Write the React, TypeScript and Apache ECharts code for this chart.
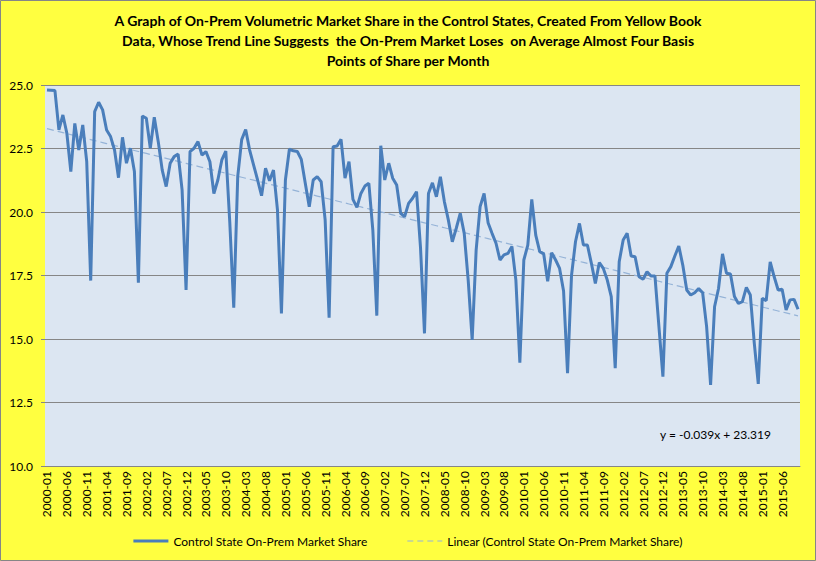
import React, { useEffect, useRef } from "react";
import * as echarts from "echarts";

// Monthly categories 2000-01 .. 2015-10
const startYear = 2000;
const monthCount = 190;
const months: string[] = [];
for (let i = 0; i < monthCount; i++) {
  const y = startYear + Math.floor(i / 12);
  const m = (i % 12) + 1;
  months.push(`${y}-${m < 10 ? "0" + m : m}`);
}

const shareValues: number[] = [
  24.8, 24.79, 24.78, 23.23, 23.82, 23.1, 21.59, 23.49, 22.44, 23.43, 21.98, 17.3,
  23.95, 24.32, 24.02, 23.23, 22.97, 22.44, 21.35, 22.94, 21.92, 22.51, 21.59, 17.22,
  23.78, 23.69, 22.51, 23.73, 22.77, 21.65, 21.0, 21.92, 22.18, 22.28, 20.87, 16.93,
  22.38, 22.51, 22.77, 22.24, 22.38, 21.98, 20.73, 21.26, 22.05, 22.4, 19.6, 16.23,
  21.39, 22.85, 23.25, 22.44, 21.85, 21.26, 20.64, 21.72, 21.23, 21.65, 20.08, 16.01,
  21.26, 22.47, 22.41, 22.38, 22.07, 21.13, 20.21, 21.26, 21.39, 21.19, 19.69, 15.84,
  22.57, 22.6, 22.86, 21.33, 21.98, 20.5, 20.18, 20.73, 21.02, 21.13, 19.29, 15.92,
  22.61, 21.26, 21.92, 21.33, 21.06, 19.95, 19.82, 20.34, 20.54, 20.8, 18.6, 15.22,
  20.73, 21.15, 20.6, 21.39, 20.41, 19.69, 18.83, 19.36, 19.95, 19.16, 17.32, 14.96,
  18.5, 20.21, 20.73, 19.58, 19.16, 18.77, 18.11, 18.31, 18.37, 18.64, 17.32, 14.07,
  18.11, 18.7, 20.5, 19.09, 18.44, 18.35, 17.27, 18.4, 18.11, 17.78, 16.89, 13.65,
  17.5, 18.83, 19.55, 18.7, 18.7, 17.98, 17.19, 18.01, 17.78, 17.32, 16.67, 13.85,
  18.04, 18.9, 19.16, 18.27, 18.24, 17.45, 17.35, 17.65, 17.48, 17.48, 15.49, 13.52,
  17.59, 17.85, 18.27, 18.66, 17.91, 16.93, 16.73, 16.82, 16.99, 16.82, 15.49, 13.19,
  16.27, 16.99, 18.35, 17.59, 17.56, 16.67, 16.4, 16.47, 17.03, 16.73, 14.83, 13.23,
  16.6, 16.51, 18.04, 17.45, 16.93, 16.96, 16.14, 16.54, 16.56, 16.17,
];

// Trend line coefficients as displayed on the chart
const trendSlope = -0.039;
const trendIntercept = 23.319;
const trendValues: number[] = shareValues.map((_, i) =>
  Number((trendSlope * (i + 1) + trendIntercept).toFixed(3))
);

const seriesName = "Control State On-Prem Market Share";
const trendName = "Linear (Control State On-Prem Market Share)";
const titleText =
  "A Graph of On-Prem Volumetric Market Share in the Control States, Created From Yellow Book\nData, Whose Trend Line Suggests  the On-Prem Market Loses  on Average Almost Four Basis\nPoints of Share per Month";
const equationText = "y = -0.039x + 23.319";

const FONT = "Lato, 'Open Sans', sans-serif";

export default function App() {
  const ref = useRef<HTMLDivElement>(null);
  useEffect(() => {
    if (!ref.current) return;
    const chart = echarts.init(ref.current, null, { renderer: "svg" });
    chart.setOption({
      animation: false,
      backgroundColor: "#FFFF40",
      textStyle: { fontFamily: FONT },
      grid: { left: 45, top: 85, width: 755, height: 381, show: true, backgroundColor: "#DCE6F2", borderWidth: 0 },
      legend: {
        left: "center",
        top: 530,
        itemWidth: 35,
        itemHeight: 14,
        itemGap: 40,
        textStyle: { fontFamily: FONT, fontSize: 12, color: "#000" },
        data: [
          { name: seriesName, icon: "path://M0,0L35,0L35,3L0,3Z" },
          {
            name: trendName,
            icon: "path://M0,0h6v1.2h-6zM10,0h6v1.2h-6zM20,0h6v1.2h-6zM30,0h5v1.2h-5z",
          },
        ],
      },
      xAxis: {
        type: "category",
        data: months,
        boundaryGap: true,
        axisLine: { show: true, lineStyle: { color: "#868686", width: 1 } },
        axisTick: { show: false },
        axisLabel: {
          interval: 4,
          rotate: 90,
          fontFamily: FONT,
          fontSize: 12,
          color: "#000",
          margin: 5,
        },
        splitLine: { show: false },
      },
      yAxis: {
        type: "value",
        min: 10,
        max: 25,
        interval: 2.5,
        axisLine: { show: false },
        axisTick: { show: true, length: 4, lineStyle: { color: "#868686" } },
        axisLabel: {
          fontFamily: FONT,
          fontSize: 12,
          color: "#000",
          margin: 12,
          formatter: (v: number) => v.toFixed(1),
        },
        splitLine: { show: true, lineStyle: { color: "#868686", width: 1 } },
      },
      series: [
        {
          name: seriesName,
          type: "line",
          data: shareValues,
          symbol: "none",
          lineStyle: { color: "#4A7EBB", width: 3 },
          itemStyle: { color: "#4A7EBB" },
          z: 3,
        },
        {
          name: trendName,
          type: "line",
          data: trendValues,
          symbol: "none",
          lineStyle: { color: "#95B3D7", width: 1.2, type: [7, 4] },
          itemStyle: { color: "#95B3D7" },
          z: 2,
        },
      ],
      graphic: [
        {
          type: "text",
          x: 408,
          y: 10,
          style: {
            text: titleText,
            fontFamily: FONT,
            fontWeight: "bold",
            fontSize: 14,
            lineHeight: 20,
            fill: "#000",
            align: "center",
            verticalAlign: "top",
          },
        },
        {
          type: "text",
          left: 660,
          top: 428,
          style: { text: equationText, fontFamily: FONT, fontSize: 12, fill: "#000" },
        },
        {
          type: "rect",
          shape: { x: 0.5, y: 0.5, width: 815, height: 560 },
          style: { fill: "none", stroke: "#868686", lineWidth: 1 },
          silent: true,
        },
      ],
    });
    return () => chart.dispose();
  }, []);
  return (
    <div
      ref={ref}
      style={{ position: "fixed", left: 0, top: 0, width: 816, height: 561 }}
    />
  );
}
